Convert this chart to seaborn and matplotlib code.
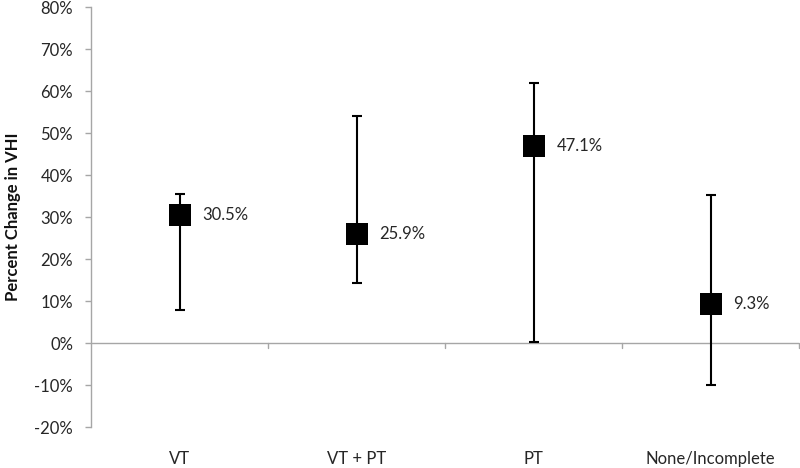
import matplotlib
matplotlib.use("Agg")
import matplotlib.pyplot as plt
import seaborn as sns
import pandas as pd

categories = ["VT", "VT + PT", "PT", "None/Incomplete"]
means = [30.5, 25.9, 47.1, 9.3]
upper = [35.5, 54.1, 61.9, 35.4]
lower = [7.9, 14.3, 0.2, -10.0]
labels = ["30.5%", "25.9%", "47.1%", "9.3%"]
yticks = [-20, -10, 0, 10, 20, 30, 40, 50, 60, 70, 80]

sns.set_theme(style="white")
plt.rcParams['font.family'] = ['Lato', 'DejaVu Sans']

df = pd.DataFrame({"cat": categories, "val": means})

fig = plt.figure(figsize=(8, 4.68), dpi=100)
ax = fig.add_axes([0.114, 0.0876, 0.885, 0.8964])

axis_gray = "#A6A6A6"
txt = "#262626"
xs = list(range(len(categories)))
yerr = [[m - l for m, l in zip(means, lower)], [u - m for m, u in zip(means, upper)]]
ax.errorbar(xs, means, yerr=yerr, fmt="none", ecolor="black", elinewidth=1.5,
            capsize=3.5, capthick=1.5, zorder=3)
sns.scatterplot(data=df, x="cat", y="val", marker="s", s=260, color="black",
                edgecolor="black", linewidth=0, ax=ax, zorder=4, legend=False)

for x, m, lab in zip(xs, means, labels):
    ax.annotate(lab, (x, m), xytext=(16.5, 0), textcoords="offset points",
                va="center", ha="left", fontsize=12, color=txt)

ax.set_xlim(-0.5, len(categories) - 0.5)
ax.set_ylim(-20, 80)
ax.set_yticks(yticks)
ax.set_yticklabels([f"{t}%" for t in yticks], fontsize=12, color=txt)
ax.set_xticks(xs)
ax.set_xticklabels(categories, fontsize=12, color=txt)
ax.tick_params(axis="x", length=0, pad=17)
ax.tick_params(axis="y", length=4, width=1, color=axis_gray, direction="out", pad=9, left=True)

for s in ["top", "right", "bottom"]:
    ax.spines[s].set_visible(False)
ax.spines["left"].set_color(axis_gray)
ax.spines["left"].set_linewidth(1)

ax.axhline(0, color=axis_gray, linewidth=1, zorder=1)
for b in [0.5, 1.5, 2.5, 3.5]:
    ax.plot([b, b], [0, -1.1], color=axis_gray, linewidth=1, zorder=1, clip_on=False)

ax.set_xlabel("")
ax.set_ylabel("Percent Change in VHI", fontsize=12, fontweight="bold", color="#111111", labelpad=10)
ax.grid(False)

fig.savefig("out.png", dpi=100)
